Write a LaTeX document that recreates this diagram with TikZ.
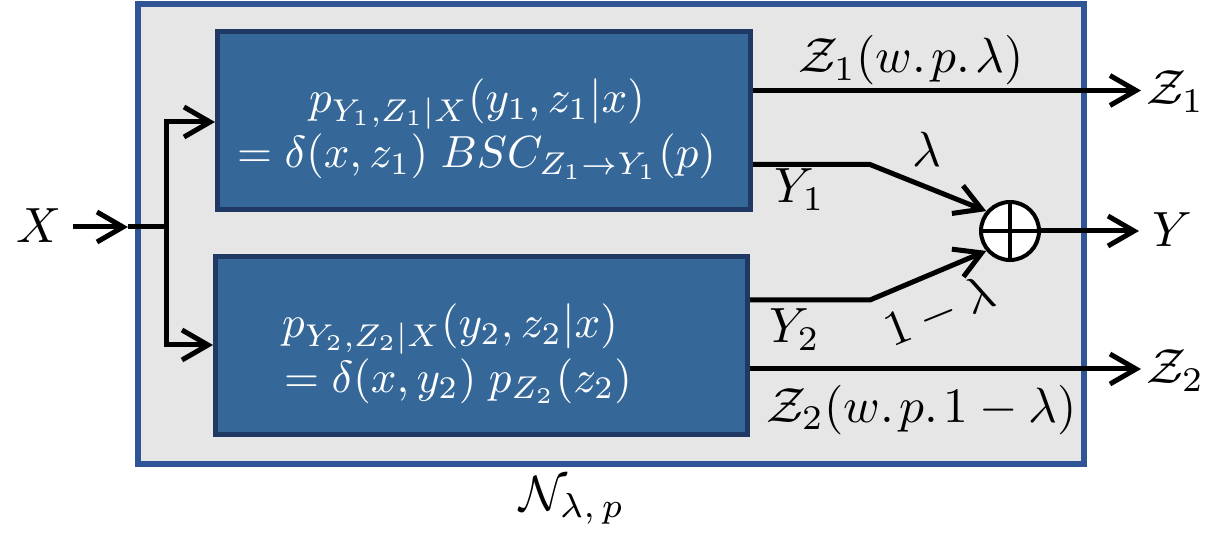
\documentclass[tikz,border=0pt]{standalone}
\usepackage{graphicx}
\usetikzlibrary{arrows.meta}
\definecolor{outerfill}{HTML}{E7E6E6}
\definecolor{outerline}{HTML}{2F5597}
\definecolor{boxfill}{HTML}{356899}
\definecolor{boxline}{HTML}{203864}
\newcommand{\boxsc}[1]{\scalebox{4.5}{#1}}
\newcommand{\lblsc}[1]{\scalebox{4.95}{#1}}
\begin{document}
\begin{tikzpicture}[x=1pt,y=-1pt,
  conn/.style={line width=5pt, line join=miter},
  arr/.style={conn,-{Straight Barb[length=26pt,width=30pt]}},
  outerbox/.style={draw=outerline, fill=outerfill, line width=5.5pt, inner sep=0pt,
                   minimum width=946pt, minimum height=460pt},
  chanbox/.style={draw=boxline, fill=boxfill, line width=5pt, inner sep=0pt,
                  minimum height=178pt},
  boxtxt/.style={text=white, inner sep=0pt},
  lbl/.style={inner sep=0pt},
  sumc/.style={circle, draw, fill=white, line width=4pt, inner sep=0pt, minimum size=58pt}
]
\useasboundingbox (0,0) rectangle (1227,545);

% frames
\node[outerbox] (outer) at (611,234) {};
\node[chanbox, minimum width=533pt] (top) at (484,120.5) {};
\node[chanbox, minimum width=532pt] (bot) at (481.5,345.5) {};

% box texts
\node[boxtxt, anchor=base] (t1a) at (477,113) {\boxsc{$p_{Y_1,Z_1|X}(y_1,z_1|x)$}};
\node[boxtxt, anchor=base] (t1b) at (476.5,168) {\boxsc{$=\delta(x,z_1)\;BSC_{Z_1\rightarrow Y_1}(p)$}};
\node[boxtxt, anchor=base west] (t2a) at (282,338) {\boxsc{$p_{Y_2,Z_2|X}(y_2,z_2|x)$}};
\node[boxtxt, anchor=base west] (t2b) at (284,392) {\boxsc{$=\delta(x,y_2)\;p_{Z_2}(z_2)$}};

% summation
\node[sumc] (sum) at (1010,231) {};
\draw[line width=4pt] (sum.north) -- (sum.south);
\draw[line width=4pt] (sum.west) -- (sum.east);

% labels
\node[lbl, anchor=base west] (Xl) at (16,243) {\lblsc{$X$}};
\node[lbl, anchor=base west] (z1lab) at (798,73) {\lblsc{$\mathcal{Z}_1(w.\mkern2mu p.\mkern2mu \lambda)$}};
\node[lbl, anchor=base west] (Z1r) at (1146,105) {\lblsc{$\mathcal{Z}_1$}};
\node[lbl, anchor=base west] (Y1l) at (774,203) {\lblsc{$Y_1$}};
\node[lbl] (lam) at (927,149) {\lblsc{$\lambda$}};
\node[lbl, anchor=base west] (Yr) at (1152,247) {\lblsc{$Y$}};
\node[lbl, anchor=base west] (Y2l) at (769,343) {\lblsc{$Y_2$}};
\node[lbl, rotate=22] (oml) at (940,312) {\lblsc{$1-\lambda$}};
\node[lbl, anchor=base west] (Z2r) at (1146,384) {\lblsc{$\mathcal{Z}_2$}};
\node[lbl, anchor=base west] (z2lab) at (766,422) {\lblsc{$\mathcal{Z}_2(w.\mkern2mu p.\mkern2mu 1-\lambda)$}};
\node[lbl, anchor=base west] (Nl) at (519,510) {\lblsc{$\mathcal{N}_{\lambda,\,p}$}};

% coordinates
\coordinate (xarr) at (128,227);
\coordinate (j) at (166,227);
\coordinate (jt) at (166,122);
\coordinate (jb) at (166,345);
\coordinate (z1e) at (1141,90.5);
\coordinate (k1) at (870,164.5);
\coordinate (k2) at (870,300);
\coordinate (ye) at (1139,231);
\coordinate (z2e) at (1141,369);

% connectors
\draw[arr, shorten <=12pt] (Xl.east |- xarr) -- (xarr);
\draw[conn] (xarr) -- (j);
\draw[arr] (j) -- (jt) -- (top.west |- jt);
\draw[arr] (j) -- (jb) -- (bot.west |- jb);
\draw[arr] (top.east |- z1e) -- (z1e);
\draw[arr] (top.east |- k1) -- (k1) -- (sum.140);
\draw[arr] (bot.east |- k2) -- (k2) -- (sum.220);
\draw[arr] (sum.east) -- (ye);
\draw[arr] (bot.east |- z2e) -- (z2e);
\end{tikzpicture}
\end{document}
